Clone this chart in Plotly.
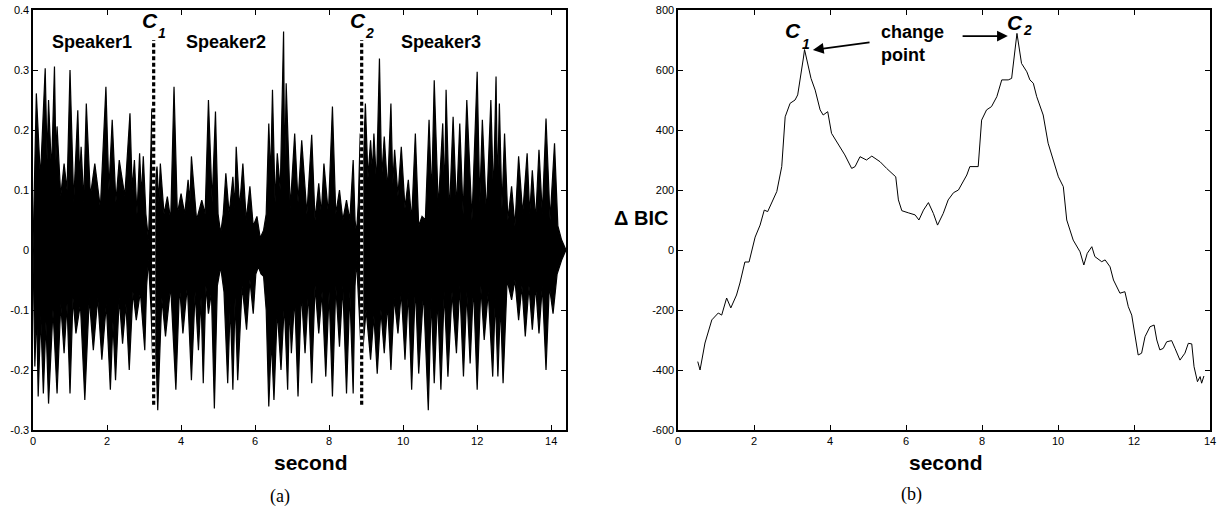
import plotly.graph_objects as go

# ---------------- data: (a) speech waveform envelope (peaks and gaps) ----------------
wave_top_t = [0.00, 0.09, 0.20, 0.33, 0.38, 0.42, 0.50, 0.58, 0.62, 0.65, 0.75, 0.84, 0.92, 1.00, 1.10,
              1.21, 1.26, 1.30, 1.37, 1.44, 1.55, 1.67, 1.82, 1.97, 2.05, 2.14, 2.24, 2.33, 2.48, 2.62,
              2.68, 2.74, 2.81, 2.88, 2.93, 2.98, 3.05, 3.12, 3.16, 3.21, 3.28, 3.35, 3.40, 3.44, 3.54,
              3.63, 3.72, 3.81, 3.90, 4.00, 4.10, 4.19, 4.24, 4.28, 4.42, 4.56, 4.65, 4.74, 4.84, 4.93,
              5.00, 5.07, 5.14, 5.21, 5.30, 5.40, 5.45, 5.49, 5.58, 5.67, 5.76, 5.86, 5.95, 6.05, 6.14,
              6.23, 6.30, 6.37, 6.42, 6.47, 6.54, 6.60, 6.68, 6.77, 6.80, 6.84, 6.95, 7.07, 7.16, 7.26,
              7.40, 7.53, 7.62, 7.72, 7.79, 7.86, 7.98, 8.09, 8.18, 8.28, 8.37, 8.47, 8.56, 8.65, 8.70,
              8.74, 8.79, 8.84, 8.91, 8.98, 9.05, 9.12, 9.17, 9.21, 9.28, 9.36, 9.42, 9.49, 9.58, 9.67,
              9.72, 9.77, 9.86, 9.95, 10.05, 10.14, 10.23, 10.33, 10.42, 10.51, 10.60, 10.70, 10.77, 10.84,
              10.95, 11.07, 11.12, 11.16, 11.25, 11.35, 11.44, 11.53, 11.62, 11.72, 11.86, 12.00, 12.07,
              12.14, 12.25, 12.37, 12.44, 12.51, 12.55, 12.60, 12.67, 12.74, 12.83, 12.93, 13.02, 13.12,
              13.23, 13.35, 13.42, 13.49, 13.58, 13.67, 13.76, 13.86, 13.97, 14.09, 14.18, 14.28, 14.40]
wave_top_v = [0.000, 0.261, 0.120, 0.303, 0.150, 0.250, 0.130, 0.306, 0.150, 0.206, 0.090, 0.144, 0.100, 0.300, 0.080,
              0.233, 0.120, 0.172, 0.080, 0.244, 0.090, 0.144, 0.070, 0.272, 0.100, 0.217, 0.080, 0.150, 0.090, 0.228,
              0.100, 0.150, 0.060, 0.161, 0.090, 0.156, 0.060, 0.017, 0.100, 0.236, 0.100, 0.139, 0.080, 0.144, 0.060,
              0.089, 0.050, 0.272, 0.060, 0.094, 0.060, 0.117, 0.080, 0.156, 0.050, 0.083, 0.060, 0.250, 0.080, 0.231,
              0.060, 0.028, 0.060, 0.128, 0.060, 0.122, 0.070, 0.172, 0.070, 0.144, 0.050, 0.106, 0.040, 0.056, 0.020,
              0.033, 0.060, 0.211, 0.120, 0.267, 0.080, 0.161, 0.100, 0.364, 0.120, 0.278, 0.070, 0.194, 0.080, 0.183,
              0.060, 0.192, 0.050, 0.111, 0.060, 0.144, 0.060, 0.239, 0.060, 0.100, 0.050, 0.083, 0.050, 0.150, 0.050,
              0.028, 0.080, 0.194, 0.120, 0.244, 0.120, 0.183, 0.130, 0.194, 0.110, 0.319, 0.120, 0.189, 0.100, 0.244,
              0.110, 0.167, 0.090, 0.172, 0.070, 0.117, 0.050, 0.194, 0.040, 0.056, 0.050, 0.217, 0.090, 0.283,
              0.070, 0.211, 0.090, 0.267, 0.060, 0.222, 0.070, 0.211, 0.060, 0.250, 0.050, 0.297, 0.080,
              0.217, 0.060, 0.250, 0.090, 0.289, 0.100, 0.244, 0.070, 0.194, 0.050, 0.106, 0.040, 0.156,
              0.060, 0.161, 0.060, 0.133, 0.050, 0.167, 0.060, 0.219, 0.050, 0.178, 0.040, 0.017, 0.000]

wave_bot_t = [0.00, 0.05, 0.10, 0.14, 0.21, 0.28, 0.35, 0.42, 0.54, 0.65, 0.75, 0.84, 0.92, 1.00, 1.08,
              1.16, 1.28, 1.40, 1.52, 1.63, 1.75, 1.86, 1.98, 2.09, 2.16, 2.23, 2.33, 2.42, 2.51, 2.60,
              2.70, 2.79, 2.90, 3.02, 3.07, 3.12, 3.19, 3.26, 3.31, 3.37, 3.48, 3.58, 3.72, 3.86, 3.96,
              4.05, 4.17, 4.28, 4.38, 4.47, 4.54, 4.60, 4.67, 4.74, 4.82, 4.90, 4.98, 5.07, 5.16, 5.26,
              5.33, 5.40, 5.46, 5.53, 5.65, 5.77, 5.86, 5.95, 6.02, 6.09, 6.16, 6.23, 6.30, 6.37, 6.44,
              6.51, 6.60, 6.70, 6.79, 6.88, 6.93, 6.98, 7.07, 7.16, 7.25, 7.35, 7.44, 7.53, 7.62, 7.72,
              7.81, 7.91, 8.00, 8.09, 8.18, 8.28, 8.37, 8.47, 8.56, 8.65, 8.70, 8.74, 8.81, 8.88, 9.00,
              9.12, 9.21, 9.30, 9.40, 9.49, 9.58, 9.67, 9.76, 9.86, 9.95, 10.05, 10.14, 10.23, 10.33,
              10.42, 10.55, 10.68, 10.76, 10.84, 10.93, 11.02, 11.11, 11.21, 11.32, 11.44, 11.53, 11.63,
              11.72, 11.81, 11.90, 12.00, 12.10, 12.19, 12.30, 12.42, 12.49, 12.56, 12.63, 12.70, 12.81,
              12.93, 13.02, 13.12, 13.21, 13.30, 13.40, 13.49, 13.58, 13.67, 13.76, 13.86, 13.95, 14.05,
              14.16, 14.28, 14.40]
wave_bot_v = [0.000, -0.194, -0.100, -0.244, -0.110, -0.239, -0.120, -0.256, -0.100, -0.239, -0.090, -0.172, -0.090, -0.239, -0.080,
              -0.139, -0.090, -0.250, -0.080, -0.167, -0.080, -0.183, -0.090, -0.233, -0.120, -0.217, -0.080, -0.156, -0.090, -0.200,
              -0.070, -0.117, -0.070, -0.167, -0.060, -0.017, -0.100, -0.239, -0.150, -0.267, -0.080, -0.144, -0.060, -0.233, -0.060,
              -0.139, -0.060, -0.217, -0.070, -0.167, -0.080, -0.222, -0.060, -0.106, -0.070, -0.264, -0.060, -0.028, -0.070, -0.222,
              -0.090, -0.233, -0.080, -0.217, -0.060, -0.133, -0.050, -0.106, -0.040, -0.028, -0.040, -0.044, -0.100, -0.261, -0.150,
              -0.250, -0.100, -0.200, -0.090, -0.233, -0.090, -0.172, -0.080, -0.244, -0.070, -0.172, -0.070, -0.222, -0.060, -0.139,
              -0.070, -0.211, -0.070, -0.244, -0.060, -0.161, -0.060, -0.239, -0.070, -0.239, -0.060, -0.017, -0.100, -0.189, -0.100,
              -0.183, -0.110, -0.206, -0.100, -0.172, -0.090, -0.200, -0.080, -0.139, -0.070, -0.183, -0.070, -0.233, -0.060,
              -0.206, -0.070, -0.267, -0.080, -0.222, -0.080, -0.233, -0.070, -0.211, -0.070, -0.172, -0.060, -0.211,
              -0.070, -0.189, -0.060, -0.233, -0.060, -0.150, -0.070, -0.211, -0.080, -0.211, -0.090, -0.222, -0.050,
              -0.083, -0.050, -0.117, -0.060, -0.144, -0.060, -0.133, -0.060, -0.139, -0.060, -0.200, -0.060, -0.106,
              -0.040, -0.017, 0.000]

change_points = [3.26, 8.88]
change_labels = ["1", "2"]
speaker_names = ["Speaker1", "Speaker2", "Speaker3"]
speaker_centers = [1.6, 5.22, 11.03]

# ---------------- data: (b) delta BIC curve ----------------
bic_t = [0.52, 0.58, 0.71, 0.89, 1.06, 1.15, 1.28, 1.39, 1.54, 1.63, 1.76, 1.87, 2.03, 2.16, 2.27,
         2.36, 2.60, 2.73, 2.82, 2.95, 3.08, 3.15, 3.30, 3.33, 3.38, 3.50, 3.61, 3.74, 3.82, 3.94,
         4.04, 4.26, 4.39, 4.57, 4.66, 4.79, 4.96, 5.10, 5.32, 5.49, 5.62, 5.73, 5.80, 5.89, 6.06,
         6.24, 6.34, 6.46, 6.59, 6.72, 6.83, 6.98, 7.11, 7.25, 7.38, 7.47, 7.60, 7.68, 7.80, 7.90,
         7.99, 8.12, 8.25, 8.39, 8.52, 8.69, 8.78, 8.85, 8.92, 9.04, 9.18, 9.26, 9.35, 9.44, 9.61,
         9.74, 9.88, 10.01, 10.14, 10.23, 10.40, 10.58, 10.68, 10.77, 10.89, 10.97, 11.15, 11.24, 11.37,
         11.46, 11.63, 11.76, 11.85, 11.94, 12.11, 12.20, 12.29, 12.42, 12.53, 12.60, 12.68, 12.77,
         12.86, 12.99, 13.08, 13.21, 13.34, 13.43, 13.52, 13.58, 13.67, 13.74, 13.78, 13.84]
bic_v = [-372, -400, -310, -233, -210, -217, -160, -193, -150, -110, -40, -40, 43, 83, 133,
         128, 195, 278, 444, 489, 500, 517, 640, 668, 640, 572, 533, 467, 450, 461,
         389, 344, 317, 272, 278, 311, 300, 313, 294, 272, 256, 244, 167, 131, 124,
         117, 100, 133, 158, 122, 83, 122, 167, 191, 200, 222, 250, 278, 278, 278,
         433, 467, 478, 511, 567, 567, 572, 656, 722, 622, 594, 567, 556, 511, 450,
         356, 300, 244, 211, 100, 33, -6, -50, -11, 11, -22, -39, -33, -56,
         -100, -144, -139, -189, -217, -350, -344, -289, -256, -250, -300, -333, -328,
         -306, -302, -328, -367, -344, -311, -313, -389, -439, -422, -444, -420]

xa_ticks = [0, 2, 4, 6, 8, 10, 12, 14]
ya_ticks = [-0.3, -0.2, -0.1, 0, 0.1, 0.2, 0.3, 0.4]
ya_text = ["-0.3", "-0.2", "-0.1", "0", "0.1", "0.2", "0.3", "0.4"]
yb_ticks = [-600, -400, -200, 0, 200, 400, 600, 800]
yb_text = ["-600", "-400", "-200", "0", "200", "400", "600", "800"]

FONT = "Liberation Sans"
W, H = 1225, 510


def px(x):
    return x / W


def py(y):
    return 1 - y / H


fig = go.Figure()

# waveform as filled envelope
poly_x = wave_top_t + wave_bot_t[::-1]
poly_y = wave_top_v + wave_bot_v[::-1]
fig.add_trace(go.Scatter(x=poly_x, y=poly_y, mode="lines", fill="toself",
                         fillcolor="black", line=dict(color="black", width=1.2),
                         xaxis="x", yaxis="y", hoverinfo="skip", showlegend=False))

# change-point dashed lines (white under-stroke so the gaps show inside the waveform)
for cp in change_points:
    fig.add_trace(go.Scatter(x=[cp, cp], y=[-0.258, 0.35], mode="lines",
                             line=dict(color="white", width=3.2),
                             xaxis="x", yaxis="y", hoverinfo="skip", showlegend=False))
    fig.add_trace(go.Scatter(x=[cp, cp], y=[-0.258, 0.35], mode="lines",
                             line=dict(color="black", width=3.2, dash="4px,2.5px"),
                             xaxis="x", yaxis="y", hoverinfo="skip", showlegend=False))

# BIC curve
fig.add_trace(go.Scatter(x=bic_t, y=bic_v, mode="lines", line=dict(color="black", width=1),
                         xaxis="x2", yaxis="y2", hoverinfo="skip", showlegend=False))

axis_common = dict(showline=True, linecolor="black", linewidth=1.6, mirror="ticks",
                   ticks="inside", ticklen=5, tickwidth=1, tickcolor="black",
                   showgrid=False, zeroline=False,
                   tickfont=dict(family=FONT, size=11, color="black"))

fig.update_layout(
    width=W, height=H,
    margin=dict(l=0, r=0, t=0, b=0, autoexpand=False),
    paper_bgcolor="white", plot_bgcolor="white",
    showlegend=False,
    hovermode=False,
    xaxis=dict(domain=[px(33), px(566)], range=[0, 14.4], tickvals=xa_ticks,
               anchor="y", **axis_common),
    yaxis=dict(domain=[py(430), py(10)], range=[-0.3, 0.4], tickvals=ya_ticks, ticktext=ya_text,
               anchor="x", **axis_common),
    xaxis2=dict(domain=[px(678), px(1210)], range=[0, 14], tickvals=xa_ticks,
                anchor="y2", **axis_common),
    yaxis2=dict(domain=[py(430), py(10)], range=[-600, 800], tickvals=yb_ticks, ticktext=yb_text,
                anchor="x2", **axis_common),
)

ann = []
bold = dict(family=FONT, size=18, color="black")
C = dict(family=FONT, size=21, color="black")
SUB = dict(family=FONT, size=14, color="black")
# speaker labels
for name, cx in zip(speaker_names, speaker_centers):
    ann.append(dict(x=cx, y=0.347, xref="x", yref="y", text="<b>%s</b>" % name,
                    showarrow=False, font=bold, xanchor="center", yanchor="middle"))
# C labels on waveform
for cp, lab in zip(change_points, change_labels):
    ann.append(dict(x=cp - 0.1, y=0.383, xref="x", yref="y", text="<b><i>C</i></b>",
                    showarrow=False, font=C, xanchor="center", yanchor="middle"))
    ann.append(dict(x=cp + 0.22, y=0.362, xref="x", yref="y", text="<b><i>%s</i></b>" % lab,
                    showarrow=False, font=SUB, xanchor="center", yanchor="middle"))
# C labels on BIC
ann.append(dict(x=3.03, y=733, xref="x2", yref="y2", text="<b><i>C</i></b>",
                showarrow=False, font=C, xanchor="center", yanchor="middle"))
ann.append(dict(x=3.36, y=688, xref="x2", yref="y2", text="<b><i>1</i></b>",
                showarrow=False, font=SUB, xanchor="center", yanchor="middle"))
ann.append(dict(x=8.87, y=758, xref="x2", yref="y2", text="<b><i>C</i></b>",
                showarrow=False, font=C, xanchor="center", yanchor="middle"))
ann.append(dict(x=9.2, y=733, xref="x2", yref="y2", text="<b><i>2</i></b>",
                showarrow=False, font=SUB, xanchor="center", yanchor="middle"))
# change point text
ann.append(dict(x=5.3, y=687, xref="x2", yref="y2", text="<b>change<br>point</b>",
                xanchor="left", yanchor="middle", align="left", showarrow=False, font=bold))
# arrows
ann.append(dict(x=3.55, y=667, ax=5.08, ay=693, xref="x2", yref="y2", axref="x2", ayref="y2",
                text="", showarrow=True, arrowhead=2, arrowsize=1.2, arrowwidth=1.8, arrowcolor="black"))
ann.append(dict(x=8.68, y=713, ax=7.45, ay=713, xref="x2", yref="y2", axref="x2", ayref="y2",
                text="", showarrow=True, arrowhead=2, arrowsize=1.2, arrowwidth=1.8, arrowcolor="black"))
# axis titles and captions
ann.append(dict(x=px(311), y=py(462), xref="paper", yref="paper", text="<b>second</b>",
                showarrow=False, font=dict(family=FONT, size=21, color="black"),
                xanchor="center", yanchor="middle"))
ann.append(dict(x=px(946), y=py(462), xref="paper", yref="paper", text="<b>second</b>",
                showarrow=False, font=dict(family=FONT, size=21, color="black"),
                xanchor="center", yanchor="middle"))
ann.append(dict(x=px(641), y=py(218), xref="paper", yref="paper", text="<b>\u0394 BIC</b>",
                showarrow=False, font=dict(family=FONT, size=20, color="black"),
                xanchor="center", yanchor="middle"))
ann.append(dict(x=px(280), y=py(496), xref="paper", yref="paper", text="(a)",
                showarrow=False, font=dict(family="Liberation Serif", size=18, color="black"),
                xanchor="center", yanchor="middle"))
ann.append(dict(x=px(911), y=py(494), xref="paper", yref="paper", text="(b)",
                showarrow=False, font=dict(family="Liberation Serif", size=18, color="black"),
                xanchor="center", yanchor="middle"))
fig.update_layout(annotations=ann)

# remove the default page margin so the 1225x510 figure fills the window exactly
fig.write_html("out.html", config={"displayModeBar": False, "staticPlot": True},
               post_script="document.body.style.margin='0';document.body.style.overflow='hidden';")
